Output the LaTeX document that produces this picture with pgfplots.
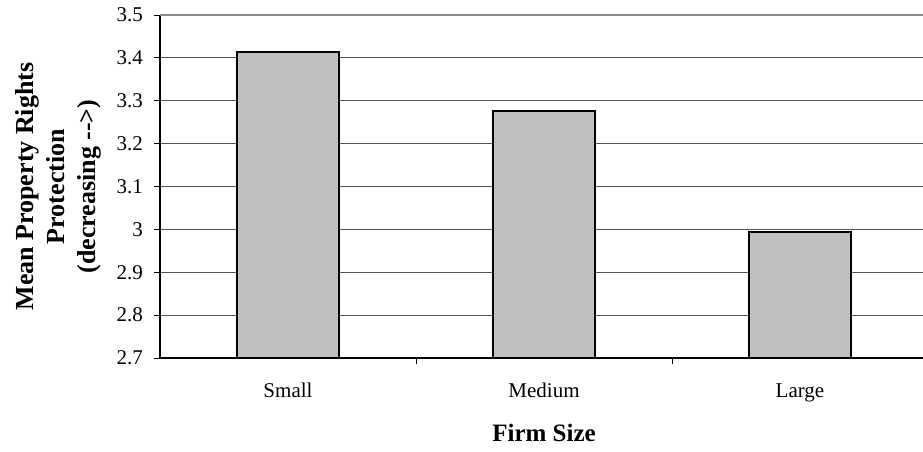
\documentclass[border=0pt]{standalone}
\usepackage{fontspec}
\setmainfont{Liberation Serif}
\usepackage{pgfplots}
\pgfplotsset{compat=1.18}
\definecolor{barfill}{HTML}{C0C0C0}
\definecolor{gridc}{HTML}{555555}
\definecolor{topc}{HTML}{8C8C8C}
\begin{document}
\begin{tikzpicture}
\useasboundingbox (-160pt,-93pt) rectangle (763pt,358pt);
\begin{axis}[
  at={(0pt,0pt)}, anchor=south west,
  scale only axis,
  width=768pt, height=343pt,
  xmin=-0.5, xmax=2.5,
  ymin=2.7, ymax=3.5,
  clip=false,
  axis x line=bottom, axis y line=left,
  axis line style={-, black, line width=1.1pt},
  ytick={2.7,2.8,2.9,3.0,3.1,3.2,3.3,3.4},
  extra y ticks={3.5},
  extra y tick style={grid style={topc, line width=2pt}},
  ymajorgrids,
  grid style={gridc, line width=0.9pt},
  tick align=outside,
  major tick length=6pt,
  tick style={black, line width=1pt},
  xtick={0.5,1.5},
  xticklabels={},
  extra x ticks={0,1,2},
  extra x tick labels={Small,Medium,Large},
  extra x tick style={major tick length=0pt, xticklabel style={anchor=base, yshift=-39pt, inner sep=0pt}},
  yticklabel style={anchor=east, inner sep=0pt, xshift=-11pt},
  ticklabel style={font=\fontsize{21}{24}\selectfont},
  /pgf/number format/assume math mode=true,
  /pgf/number format/fixed,
  /pgf/number format/precision=1,
  xlabel={\textbf{Firm Size}},
  xlabel style={at={(axis description cs:0.5,0)}, anchor=base, yshift=-83pt, inner sep=0pt, font=\fontsize{25}{30}\selectfont},
  ylabel={\textbf{Mean Property Rights}\\\textbf{Protection}\\\textbf{(decreasing {-}{-}>)}},
  ylabel style={at={(axis description cs:0,0.5)}, anchor=center, yshift=102pt, align=center, font=\fontsize{26}{31}\selectfont},
]
\addplot[ybar, bar width=102pt, fill=barfill, draw=black, line width=2pt, bar shift=0pt]
  coordinates {(0,3.414) (1,3.276) (2,2.994)};
\end{axis}
\end{tikzpicture}
\end{document}
